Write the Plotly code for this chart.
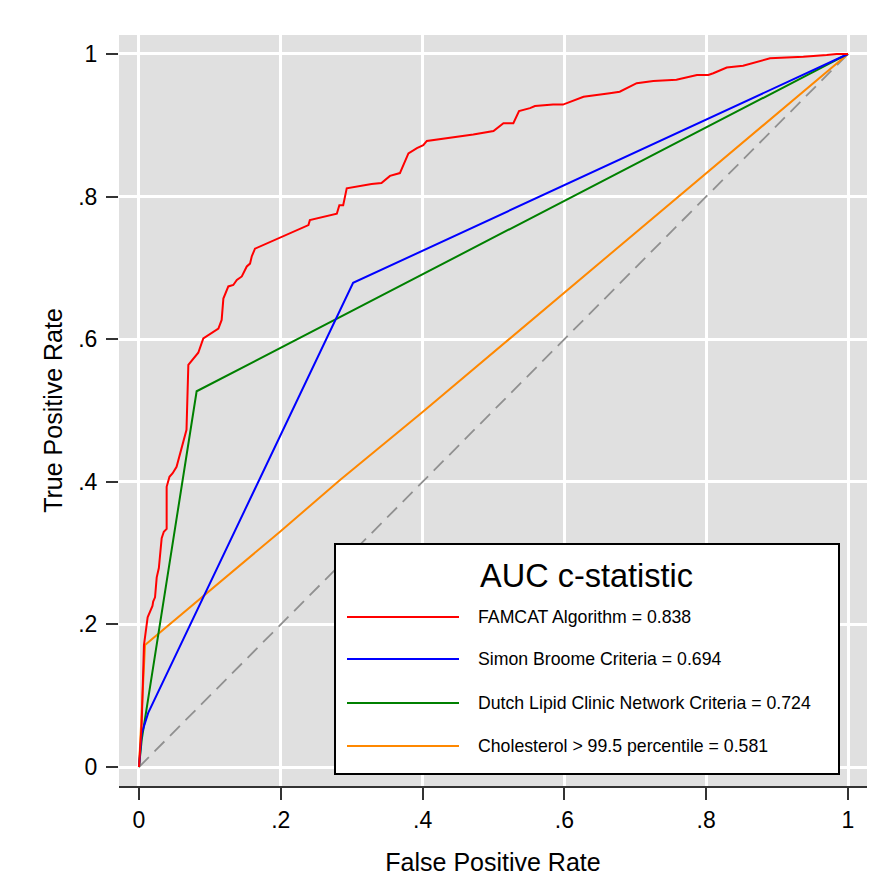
import plotly.graph_objects as go

# ---------------- data ----------------
famcat_fpr = [0.0, 0.002, 0.0038, 0.007, 0.0108, 0.0122, 0.019, 0.020, 0.0226, 0.025, 0.028,
              0.0306, 0.032, 0.035, 0.039, 0.039, 0.043, 0.0475, 0.053, 0.067, 0.0696, 0.0696,
              0.0836, 0.0907, 0.112, 0.1166, 0.119, 0.126, 0.133, 0.138, 0.145, 0.152, 0.1566,
              0.159, 0.1636, 0.239, 0.241, 0.279, 0.2826, 0.288, 0.293, 0.328, 0.342, 0.354,
              0.368, 0.380, 0.392, 0.401, 0.406, 0.4715, 0.500, 0.514, 0.528, 0.536, 0.5515,
              0.5585, 0.584, 0.598, 0.627, 0.6455, 0.664, 0.678, 0.702, 0.7254, 0.758, 0.787,
              0.803, 0.810, 0.829, 0.852, 0.871, 0.890, 0.9135, 0.937, 0.970, 0.984, 1.0]
famcat_tpr = [0.0, 0.03, 0.061, 0.171, 0.195, 0.210, 0.226, 0.232, 0.238, 0.266, 0.279,
              0.304, 0.321, 0.330, 0.334, 0.393, 0.407, 0.412, 0.421, 0.473, 0.543, 0.564,
              0.581, 0.601, 0.615, 0.627, 0.657, 0.674, 0.676, 0.683, 0.688, 0.702, 0.706,
              0.716, 0.727, 0.760, 0.767, 0.776, 0.788, 0.788, 0.8115, 0.8177, 0.819, 0.829,
              0.833, 0.8605, 0.868, 0.872, 0.878, 0.887, 0.892, 0.903, 0.903, 0.920, 0.924,
              0.927, 0.929, 0.929, 0.940, 0.942, 0.945, 0.947, 0.959, 0.962, 0.964, 0.9705,
              0.9705, 0.973, 0.981, 0.9835, 0.9885, 0.994, 0.995, 0.996, 0.9985, 1.0, 1.0]

simon_fpr = [0.0, 0.002, 0.0038, 0.013, 0.302, 1.0]
simon_tpr = [0.0, 0.030, 0.047, 0.076, 0.679, 1.0]

dutch_fpr = [0.0, 0.002, 0.0038, 0.0813, 1.0]
dutch_tpr = [0.0, 0.025, 0.038, 0.527, 1.0]

chol_fpr = [0.0, 0.0085, 0.1989, 0.2835, 0.40, 0.7207, 1.0]
chol_tpr = [0.0, 0.171, 0.330, 0.4025, 0.498, 0.7665, 1.0]

ref_x = [0.0, 1.0]
ref_y = [0.0, 1.0]

series_names = ["FAMCAT Algorithm = 0.838",
                "Simon Broome Criteria = 0.694",
                "Dutch Lipid Clinic Network Criteria = 0.724",
                "Cholesterol > 99.5 percentile = 0.581"]
series_colors = ["#ff0000", "#0000ff", "#008000", "#ff8800"]
legend_title = "AUC c-statistic"

tick_vals = [0, 0.2, 0.4, 0.6, 0.8, 1]
tick_text = ["0", ".2", ".4", ".6", ".8", "1"]

x_title = "False Positive Rate"
y_title = "True Positive Rate"

# ---------------- figure ----------------
# the page body adds an 8px offset; margins compensate so the plot lands where the reference has it
OFF = 8
W, H = 887, 891
L, R, T, B = 119 - OFF, 20 + OFF, 35 - OFF, 105 + OFF
FONT = "Arial, 'Liberation Sans', sans-serif"

def px_x(p):
    return (p - OFF - L) / (W - L - R)

def px_y(p):
    return (H - B - (p - OFF)) / (H - T - B)

fig = go.Figure()

fig.add_trace(go.Scatter(x=ref_x, y=ref_y, mode="lines",
                         line=dict(color="#909090", width=1.8, dash="14px,8px"),
                         showlegend=False, hoverinfo="skip"))

all_x = [famcat_fpr, simon_fpr, dutch_fpr, chol_fpr]
all_y = [famcat_tpr, simon_tpr, dutch_tpr, chol_tpr]
order = [3, 2, 1, 0]
for i in order:
    fig.add_trace(go.Scatter(x=all_x[i], y=all_y[i], mode="lines",
                             line=dict(color=series_colors[i], width=2),
                             name=series_names[i], showlegend=False))

# legend box drawn manually
shapes = [dict(type="rect", xref="paper", yref="paper",
               x0=px_x(335), x1=px_x(839), y0=px_y(774), y1=px_y(544),
               fillcolor="white", line=dict(color="black", width=2), layer="above")]
annotations = [dict(text=legend_title, xref="paper", yref="paper",
                    x=px_x(586), y=px_y(576), xanchor="center", yanchor="middle",
                    showarrow=False, font=dict(family=FONT, size=32.5, color="black"))]
entry_y = [617, 659, 703, 746]
for i, ey in enumerate(entry_y):
    shapes.append(dict(type="line", xref="paper", yref="paper",
                       x0=px_x(347), x1=px_x(459), y0=px_y(ey), y1=px_y(ey),
                       line=dict(color=series_colors[i], width=2), layer="above"))
    annotations.append(dict(text=series_names[i], xref="paper", yref="paper",
                            x=px_x(476), y=px_y(ey), xanchor="left", yanchor="middle",
                            showarrow=False,
                            font=dict(family=FONT, size=17.7, color="black")))

fig.update_layout(
    width=W, height=H,
    margin=dict(l=L, r=R, t=T, b=B, pad=0),
    paper_bgcolor="white",
    plot_bgcolor="#e0e0e0",
    font=dict(family=FONT, color="black"),
    shapes=shapes,
    annotations=annotations,
    showlegend=False,
)

fig.update_xaxes(range=[-0.0282, 1.0268], tickvals=tick_vals, ticktext=tick_text,
                 ticks="outside", ticklen=12, tickwidth=2, tickcolor="#333333",
                 showline=True, linecolor="#333333", linewidth=2,
                 showgrid=True, gridcolor="white", gridwidth=2.5, zeroline=False,
                 tickfont=dict(family=FONT, size=23, color="black"),
                 title=dict(text=x_title, font=dict(family=FONT, size=25, color="black"),
                            standoff=22),
                 fixedrange=True)
fig.update_yaxes(range=[-0.0266, 1.0266], tickvals=tick_vals, ticktext=tick_text,
                 ticks="outside", ticklen=12, tickwidth=2, tickcolor="#333333",
                 showline=False,
                 showgrid=True, gridcolor="white", gridwidth=2.5, zeroline=False,
                 tickfont=dict(family=FONT, size=23, color="black"),
                 ticklabelstandoff=4,
                 title=dict(text=y_title, font=dict(family=FONT, size=25, color="black"),
                            standoff=8),
                 fixedrange=True)

fig.write_html("out.html")
